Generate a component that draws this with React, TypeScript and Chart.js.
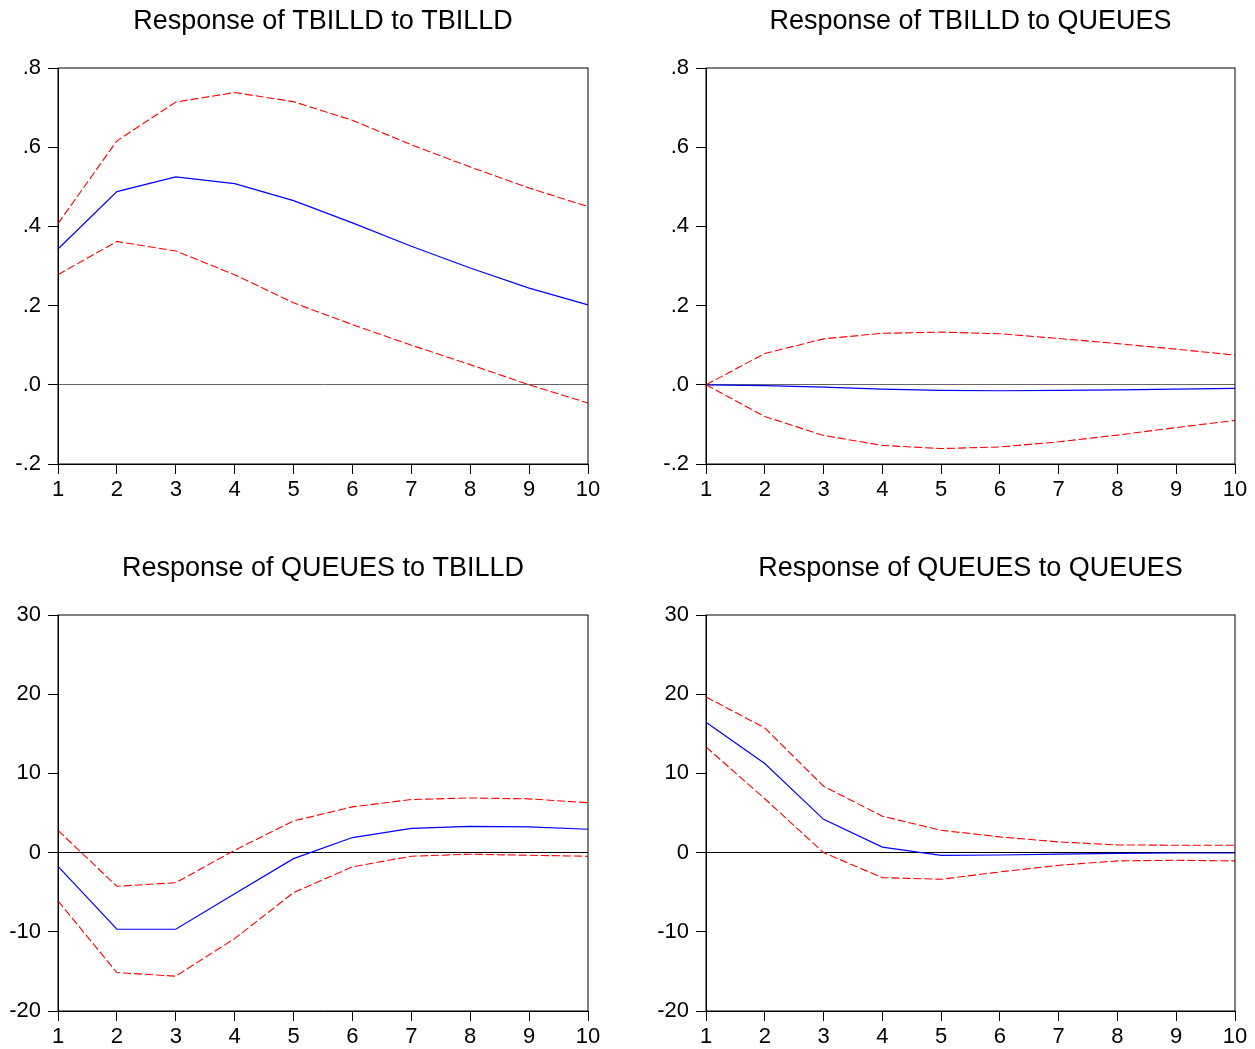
import React, { useEffect, useRef } from "react";
import { Chart, registerables } from "chart.js";

Chart.register(...registerables);

const periods = ["1", "2", "3", "4", "5", "6", "7", "8", "9", "10"];

// Response of TBILLD to TBILLD
const resp11 = [0.343, 0.488, 0.525, 0.508, 0.465, 0.409, 0.35, 0.295, 0.244, 0.202];
const up11 = [0.407, 0.616, 0.714, 0.738, 0.715, 0.668, 0.606, 0.55, 0.497, 0.45];
const lo11 = [0.278, 0.362, 0.338, 0.278, 0.207, 0.152, 0.1, 0.051, 0.0, -0.046];

// Response of TBILLD to QUEUES
const resp12 = [0, -0.002, -0.006, -0.011, -0.014, -0.015, -0.014, -0.013, -0.011, -0.009];
const up12 = [0, 0.079, 0.116, 0.13, 0.133, 0.129, 0.117, 0.104, 0.09, 0.075];
const lo12 = [0, -0.08, -0.128, -0.153, -0.161, -0.157, -0.144, -0.127, -0.108, -0.09];

// Response of QUEUES to TBILLD
const resp21 = [-1.73, -9.68, -9.68, -5.2, -0.76, 1.9, 3.07, 3.3, 3.24, 2.95];
const up21 = [2.8, -4.25, -3.8, 0.3, 4.0, 5.77, 6.7, 6.9, 6.78, 6.3];
const lo21 = [-6.1, -15.15, -15.6, -10.86, -5.05, -1.8, -0.46, -0.2, -0.34, -0.46];

// Response of QUEUES to QUEUES
const resp22 = [16.46, 11.24, 4.2, 0.7, -0.34, -0.3, -0.2, -0.1, -0.05, -0.05];
const up22 = [19.65, 15.74, 8.38, 4.6, 2.82, 1.98, 1.35, 0.97, 0.93, 0.93];
const lo22 = [13.34, 6.8, 0.0, -3.16, -3.37, -2.44, -1.6, -1.05, -0.97, -1.05];

const titles = [
  "Response of TBILLD to TBILLD",
  "Response of TBILLD to QUEUES",
  "Response of QUEUES to TBILLD",
  "Response of QUEUES to QUEUES",
];

const smallRange = { min: -0.2, max: 0.8, step: 0.2 };
const bigRange = { min: -20, max: 30, step: 10 };

const FONT = 'Arial, "Liberation Sans", sans-serif';

const framePlugin = {
  id: "frame",
  afterDraw(chart: any) {
    const { ctx, chartArea } = chart;
    ctx.save();
    ctx.strokeStyle = "#000";
    ctx.lineWidth = 1;
    ctx.strokeRect(chartArea.left, chartArea.top, chartArea.right - chartArea.left, chartArea.bottom - chartArea.top);
    ctx.restore();
  },
};

function fmtSmall(v: number) {
  const s = Number(v).toFixed(1);
  return s.replace(/^(-?)0\./, "$1.");
}
function fmtBig(v: number) {
  return String(Math.round(Number(v)));
}

type PanelProps = {
  title: string;
  resp: number[];
  up: number[];
  lo: number[];
  range: { min: number; max: number; step: number };
  small: boolean;
  left: number;
  top: number;
  width: number;
  padRight: number;
  zeroColor: string;
};

function Panel(p: PanelProps) {
  const ref = useRef<HTMLCanvasElement | null>(null);
  useEffect(() => {
    if (!ref.current) return;
    const chart = new Chart(ref.current, {
      type: "line",
      data: {
        labels: periods,
        datasets: [
          {
            data: p.up,
            borderColor: "#ff0000",
            borderWidth: 1.1,
            borderDash: [8, 3],
            pointRadius: 0,
            tension: 0,
            fill: false,
          },
          {
            data: p.lo,
            borderColor: "#ff0000",
            borderWidth: 1.1,
            borderDash: [8, 3],
            pointRadius: 0,
            tension: 0,
            fill: false,
          },
          {
            data: p.resp,
            borderColor: "#0000ff",
            borderWidth: 1.2,
            pointRadius: 0,
            tension: 0,
            fill: false,
          },
        ],
      },
      options: {
        animation: false,
        responsive: false,
        layout: { padding: { left: 0, right: p.padRight, top: 0, bottom: 0 } },
        plugins: {
          legend: { display: false },
          tooltip: { enabled: false },
          title: {
            display: true,
            text: p.title,
            color: "#000",
            fullSize: false,
            font: { size: 27, family: FONT, weight: "normal", lineHeight: 1.2 },
            padding: { top: 5.8, bottom: 29.8 },
          },
        },
        scales: {
          x: {
            type: "category",
            offset: false,
            afterFit: (s: any) => {
              s.height = 36;
            },
            border: { color: "#000", width: 1 },
            grid: {
              drawOnChartArea: false,
              drawTicks: true,
              tickLength: 10,
              tickColor: "#000",
            },
            ticks: {
              color: "#000",
              font: { size: 22, family: FONT },
              padding: 3,
              maxRotation: 0,
              autoSkip: false,
            },
          },
          y: {
            type: "linear",
            min: p.range.min,
            max: p.range.max,
            afterFit: (s: any) => {
              s.width = 58;
            },
            border: { color: "#000", width: 1 },
            grid: {
              drawOnChartArea: true,
              drawTicks: true,
              tickLength: 10,
              tickColor: "#000",
              color: (c: any) =>
                c.tick && Math.abs(c.tick.value) < 1e-9 ? p.zeroColor : "rgba(0,0,0,0)",
              lineWidth: 1,
            },
            ticks: {
              stepSize: p.range.step,
              color: "#000",
              font: { size: 22, family: FONT },
              padding: 7,
              callback: (v: any) => (p.small ? fmtSmall(v) : fmtBig(v)),
            },
          },
        },
      },
      plugins: [framePlugin],
    } as any);
    return () => chart.destroy();
  }, []);
  return (
    <canvas
      ref={ref}
      width={p.width}
      height={500}
      style={{ position: "absolute", left: p.left, top: p.top, width: p.width, height: 500, display: "block" }}
    />
  );
}

export default function App() {
  return (
    <div
      style={{
        position: "absolute",
        left: 0,
        top: 0,
        width: 1255,
        height: 1049,
        overflow: "hidden",
        background: "#fff",
      }}
    >
      <Panel title={titles[0]} resp={resp11} up={up11} lo={lo11} range={smallRange} small={true}
        left={0} top={0} width={628} padRight={40} zeroColor="#666666" />
      <Panel title={titles[1]} resp={resp12} up={up12} lo={lo12} range={smallRange} small={true}
        left={648} top={0} width={607} padRight={20} zeroColor="#666666" />
      <Panel title={titles[2]} resp={resp21} up={up21} lo={lo21} range={bigRange} small={false}
        left={0} top={547} width={628} padRight={40} zeroColor="#000000" />
      <Panel title={titles[3]} resp={resp22} up={up22} lo={lo22} range={bigRange} small={false}
        left={648} top={547} width={607} padRight={20} zeroColor="#000000" />
    </div>
  );
}
